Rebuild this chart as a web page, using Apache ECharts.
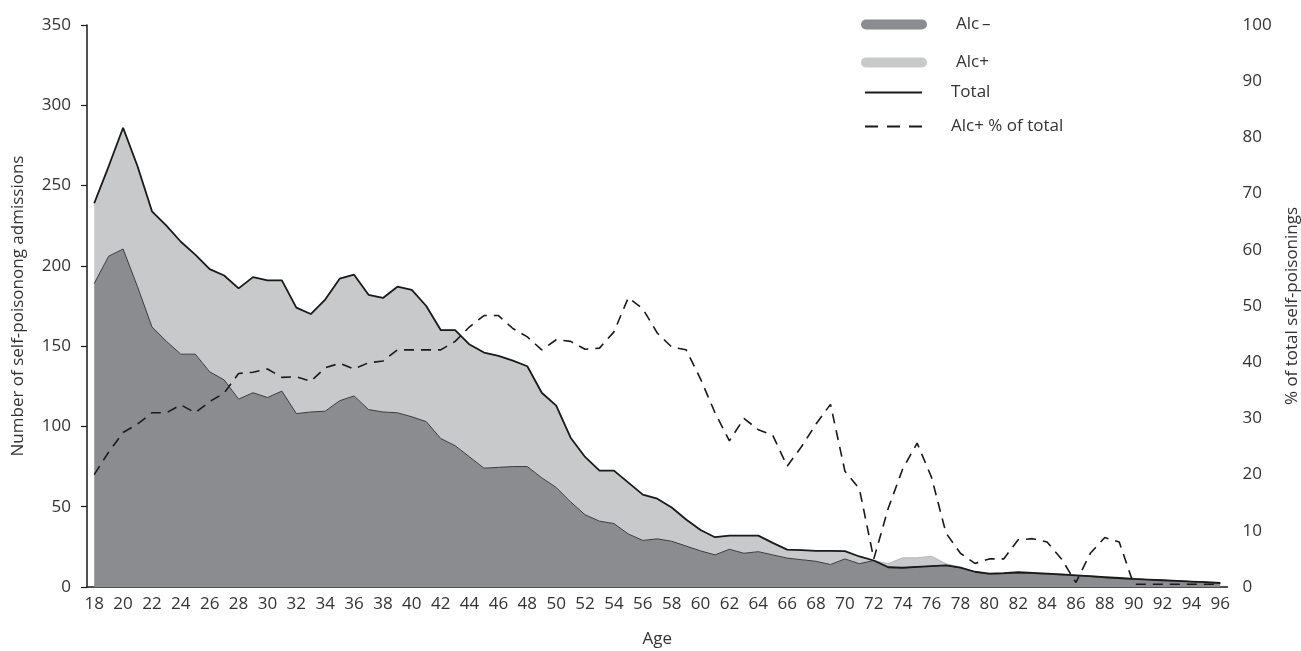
<!DOCTYPE html>
<html>
<head>
<meta charset="utf-8">
<script src="https://cdn.jsdelivr.net/npm/echarts@6/dist/echarts.min.js"></script>
<style>
  html, body { margin: 0; padding: 0; background: #fff; }
  #container { width: 1301px; height: 651px; }
</style>
</head>
<body>
<div id="container"></div>
<script>
var ages = [18, 19, 20, 21, 22, 23, 24, 25, 26, 27, 28, 29, 30, 31, 32, 33, 34, 35, 36, 37,
  38, 39, 40, 41, 42, 43, 44, 45, 46, 47, 48, 49, 50, 51, 52, 53, 54, 55, 56, 57,
  58, 59, 60, 61, 62, 63, 64, 65, 66, 67, 68, 69, 70, 71, 72, 73, 74, 75, 76, 77,
  78, 79, 80, 81, 82, 83, 84, 85, 86, 87, 88, 89, 90, 91, 92, 93, 94, 95, 96];

// Alc- admissions (dark area)
var alcNeg = [189, 206, 210.5, 187, 162, 153, 145, 145, 134, 129, 117, 121, 118, 122, 108, 109, 109.5, 116, 119, 110.5,
  109, 108.5, 106, 103, 92.5, 88, 81, 74, 74.5, 75, 75, 68, 62, 53, 45, 41, 39.5, 33, 29, 30,
  28.5, 25.5, 22.5, 20, 23.5, 21, 22, 20, 18, 17, 16, 14, 17.5, 14.5, 16.5, 12.3, 12, 12.5, 13, 13.5,
  12, 9.5, 8, 8.3, 8.7, 8.4, 8, 7.5, 7.2, 6.5, 5.7, 5.2, 5, 4.6, 4.2, 3.8, 3.4, 3, 2.5];

// Alc+ admissions (light area, stacked on Alc-)
var alcPos = [50, 56, 75.5, 75, 72, 72, 70, 62, 64, 65, 69, 72, 73, 69, 66, 61, 69.5, 76, 75.5, 71.5,
  71, 78.5, 79, 72, 67.5, 72, 70, 72, 69.5, 66, 62.5, 53, 51, 40, 36, 31.5, 33, 32, 28.5, 25,
  21, 16.5, 13, 11, 8.5, 11, 10, 7.5, 5.3, 6, 6.5, 8.5, 4.8, 4.5, 0, 2.3, 6.2, 5.7, 6.2, 1,
  0.5, 0, 0.3, 0.4, 0.5, 0.4, 0.3, 0.3, 0.1, 0.3, 0.5, 0.4, 0, 0, 0, 0, 0, 0, 0];

var total = [239, 262, 286, 262, 234, 225, 215, 207, 198, 194, 186, 193, 191, 191, 174, 170, 179, 192, 194.5, 182,
  180, 187, 185, 175, 160, 160, 151, 146, 144, 141, 137.5, 121, 113, 93, 81, 72.5, 72.5, 65, 57.5, 55,
  49.5, 42, 35.5, 31, 32, 32, 32, 27.5, 23.3, 23, 22.5, 22.5, 22.3, 19, 16.5, 12.3, 12, 12.5, 13, 13.5,
  12, 9.5, 8.3, 8.7, 9.2, 8.8, 8.3, 7.8, 7.3, 6.8, 6.2, 5.6, 5, 4.6, 4.2, 3.8, 3.4, 3, 2.5];

// Alc+ as % of total (right axis)
var alcPct = [20, 24, 27.5, 29, 31, 31, 32.4, 31, 33, 34.5, 38, 38.2, 38.8, 37.3, 37.4, 36.6, 39, 39.8, 38.8, 39.9,
  40.2, 42.2, 42.2, 42.2, 42.2, 43.7, 46.3, 48.3, 48.3, 46, 44.5, 42.2, 44, 43.7, 42.3, 42.5, 45.4, 51.5, 49.5, 45.2,
  42.7, 42.2, 37, 31, 26, 30, 28, 27, 21.5, 25, 29, 32.5, 20.6, 17.5, 5, 14, 21, 25.6, 19.5, 9.6,
  6, 4.2, 5, 5, 8.4, 8.6, 8, 5, 0.8, 6, 8.8, 8, 0.5, 0.5, 0.5, 0.5, 0.5, 0.5, 0.5];

var darkGrey = '#8b8c90';
var lightGrey = '#c8c9cb';
var ink = '#1a1a1a';
var txt = '#333';
var font = 'Open Sans';
var fs = 17;

// legend glyphs: capsule for the areas, solid / dashed strokes for the lines
var capsule = 'path://M5,0H61A5,5,0,0,1,61,10H5A5,5,0,0,1,5,0Z';
var solidBar = 'path://M0,0H57V2H0Z';
var dashBar = 'path://M0,0H13V2H0ZM22,0H35V2H22ZM44,0H57V2H44Z';

var dom = document.getElementById('container');
var myChart = echarts.init(dom, null, { renderer: 'canvas' });

function legendFor(name, top, left, icon, color, w, h) {
  return {
    data: [{ name: name, icon: icon, itemStyle: { color: color, borderWidth: 0 } }],
    top: top,
    left: left,
    itemWidth: w,
    itemHeight: h,
    selectedMode: false,
    textStyle: {
      fontFamily: font,
      fontSize: fs,
      color: txt,
      padding: [0, 0, 0, 24]
    }
  };
}

var option = {
  animation: false,
  backgroundColor: '#fff',
  grid: {
    left: 87,
    right: 73.5,
    top: 25,
    bottom: 64,
    containLabel: false,
    outerBoundsMode: 'none'
  },
  legend: [
    legendFor('Alc\u2009\u2013', 11, 856, capsule, darkGrey, 66, 10),
    legendFor('Alc+', 49, 856, capsule, lightGrey, 66, 10),
    legendFor('Total', 79, 860, solidBar, ink, 57, 2),
    legendFor('Alc+ % of total', 113, 860, dashBar, ink, 57, 2)
  ],
  xAxis: {
    type: 'category',
    data: ages,
    boundaryGap: true,
    name: 'Age',
    nameLocation: 'middle',
    nameGap: 44,
    nameTextStyle: { fontFamily: font, fontSize: fs, color: txt },
    axisLine: { lineStyle: { color: ink, width: 1.5 } },
    axisTick: { show: false },
    axisLabel: {
      interval: 1,
      margin: 9,
      fontFamily: font,
      fontSize: fs,
      color: txt
    },
    splitLine: { show: false }
  },
  yAxis: [
    {
      type: 'value',
      min: 0,
      max: 350,
      interval: 50,
      name: 'Number of self-poisonong admissions',
      nameLocation: 'middle',
      nameGap: 60,
      nameTextStyle: { fontFamily: font, fontSize: fs, color: txt },
      axisLine: { show: true, lineStyle: { color: ink, width: 1.5 } },
      axisTick: { show: true, length: 6, lineStyle: { color: ink, width: 1.2 } },
      axisLabel: { margin: 16, fontFamily: font, fontSize: fs, color: txt },
      splitLine: { show: false }
    },
    {
      type: 'value',
      min: 0,
      max: 100,
      interval: 10,
      position: 'right',
      name: '% of total self-poisonings',
      nameLocation: 'middle',
      nameRotate: 90,
      nameGap: 56,
      nameTextStyle: { fontFamily: font, fontSize: fs, color: txt },
      axisLine: { show: false },
      axisTick: { show: false },
      axisLabel: { margin: 15, fontFamily: font, fontSize: fs, color: txt },
      splitLine: { show: false }
    }
  ],
  series: [
    {
      name: 'Alc\u2009\u2013',
      type: 'line',
      stack: 'adm',
      symbol: 'none',
      data: alcNeg,
      itemStyle: { color: darkGrey },
      lineStyle: { color: '#3a3a3a', width: 1 },
      areaStyle: { color: darkGrey, opacity: 1 },
      z: 1
    },
    {
      name: 'Alc+',
      type: 'line',
      stack: 'adm',
      symbol: 'none',
      data: alcPos,
      itemStyle: { color: lightGrey },
      lineStyle: { color: '#9a9a9a', width: 0.6 },
      areaStyle: { color: lightGrey, opacity: 1 },
      z: 1
    },
    {
      name: 'Total',
      type: 'line',
      symbol: 'none',
      data: total,
      itemStyle: { color: ink },
      lineStyle: { color: ink, width: 1.8 },
      z: 3
    },
    {
      name: 'Alc+ % of total',
      type: 'line',
      yAxisIndex: 1,
      symbol: 'none',
      data: alcPct,
      itemStyle: { color: ink },
      lineStyle: { color: ink, width: 1.6, type: [10, 7] },
      z: 4
    }
  ]
};

myChart.setOption(option);
</script>
</body>
</html>
